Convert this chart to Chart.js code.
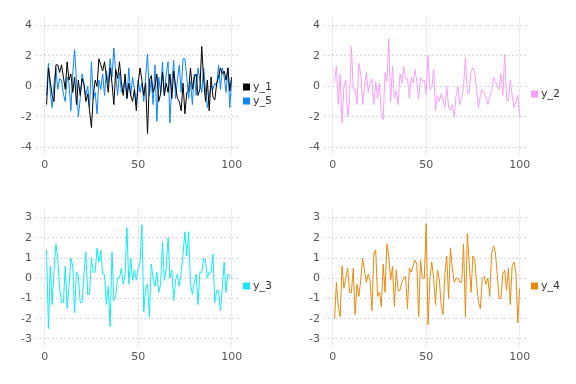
<!DOCTYPE html>
<html>
<head>
<meta charset="utf-8">
<script src="https://cdn.jsdelivr.net/npm/chart.js@4.4.1/dist/chart.umd.min.js"></script>
<style>
    html, body { margin: 0; padding: 0; background: #fff; }
    #wrap { position: relative; width: 576px; height: 384px; }
    #wrap canvas { position: absolute; }
</style>
</head>
<body>
<div id="wrap">
    <canvas id="c1" width="288" height="192" style="left:0;top:0"></canvas>
    <canvas id="c2" width="288" height="192" style="left:288px;top:0"></canvas>
    <canvas id="c3" width="288" height="192" style="left:0;top:192px"></canvas>
    <canvas id="c4" width="288" height="192" style="left:288px;top:192px"></canvas>
</div>
<script>
/* ==================== DATA ==================== */
const y1 = [
    -1.2, 1.2, 0.3, -0.6, -1.0, 1.4, 1.4, 0.9, 1.4, 0.6,
    -0.2, 1.6, 0.4, 0.8, -0.4, 0.6, -1.2, 0.4, -0.6, 0.5,
    0.1, -1.0, -0.5, -1.6, -2.7, -0.6, 0.4, 0.0, 1.8, 1.4,
    1.0, 1.6, 0.6, -0.4, 1.2, 0.2, -1.2, 1.1, 0.5, 1.6,
    0.3, -0.6, 0.8, -0.8, 0.2, -0.6, -1.0, -0.2, -1.6, 0.2,
    1.2, 0.4, -0.6, 0.2, -3.1, 0.4, 0.7, -0.4, 0.0, 0.8,
    -1.0, -0.5, 0.9, -0.6, 0.2, -0.4, 0.8, -0.8, 1.0, 0.0,
    -0.8, -1.0, -1.6, 0.2, -1.8, -0.4, -0.3, 1.2, -0.2, 0.6,
    0.8, -0.6, -0.2, 2.6, 0.5, -1.0, 0.4, -1.6, 0.6, -0.7,
    -0.9, 0.2, 0.6, 1.2, 0.8, 1.0, 0.4, 1.2, -0.3, 0.6
];
const y5 = [
    -0.6, 1.5, -0.4, -1.4, 0.2, 1.2, -0.2, 0.5, 0.4, -0.5,
    -1.0, 0.6, 0.2, -1.6, 0.8, 2.4, 0.4, -2.0, -0.8, 0.8,
    0.2, -0.6, 0.0, -1.4, 1.6, -0.8, -0.4, -1.8, 0.4, -0.2,
    0.8, -0.6, 1.0, 0.2, 1.8, 0.6, 2.5, 0.8, -0.6, 0.9,
    -0.4, 0.0, 0.4, -0.8, 1.2, -0.6, 0.6, -0.2, -1.2, 0.4,
    -0.4, 0.2, -1.0, 0.6, 2.1, -0.6, 0.4, -1.2, 1.4, -2.3,
    0.6, -0.4, 1.6, -0.6, 0.8, 1.6, -2.4, 0.2, 1.7, -0.8,
    0.4, 1.4, -0.4, 1.8, 1.8, 0.6, -0.8, 0.3, -1.2, 0.8,
    -0.6, 1.2, 0.4, -0.4, 1.2, -0.2, -1.4, -0.6, 0.0, -0.2,
    0.2, 0.0, 1.4, -0.2, 1.2, 0.6, -0.4, 1.2, -1.4, 0.4
];
const y2 = [
    0.3, 1.3, -1.2, 0.8, -2.4, 0.0, 0.4, -2.0, -1.0, 2.6,
    -0.2, -0.2, -1.2, 1.5, 0.8, -1.2, 0.0, 0.9, -0.4, 0.2,
    0.5, -1.2, 0.3, -0.8, 0.2, -1.8, -2.2, 0.9, 0.3, 3.1,
    -1.0, 1.3, -0.8, -0.3, -1.2, 0.8, 0.2, 1.3, 0.5, 0.5,
    -0.8, 0.6, 0.2, 1.1, 0.3, -0.8, 0.6, 0.3, 0.4, -0.5,
    2.0, -0.2, -0.1, 1.1, -1.6, -0.6, -1.0, -0.5, -0.9, -1.4,
    0.0, -1.4, -1.6, -1.2, -2.0, -0.6, 0.0, -1.2, -0.8, 0.0,
    1.9, -0.4, -0.5, 1.0, 1.2, 0.9, -0.2, -1.4, -0.6, -0.2,
    -0.4, -0.8, -1.2, -0.7, -0.4, 0.6, 0.3, 0.0, -0.2, 0.8,
    -0.6, 2.1, -0.8, -1.0, 0.4, -0.6, -1.4, -1.0, -0.6, -2.0
];
const y3 = [
    1.4, -2.5, 0.6, -1.3, 0.4, 1.7, 1.0, -0.5, -1.2, -1.2,
    0.6, -1.5, -0.4, 1.0, 0.6, -1.7, 0.3, 0.1, -1.2, -1.2,
    0.2, 1.3, -0.8, -0.8, 1.0, 0.3, 0.3, 1.5, 0.8, 1.4,
    0.2, 0.2, -1.3, -0.4, -2.4, 1.3, -1.1, -0.9, 0.0, 0.0,
    0.5, -0.3, 0.2, 2.5, -0.3, 1.0, -0.1, 0.4, -0.1, 0.5,
    0.8, 2.65, -1.65, -0.5, -0.3, -1.9, 0.7, 0.0, -0.4, 0.3,
    -0.7, -0.3, 1.8, -0.1, 0.5, 2.0, 0.0, 0.4, -1.1, -0.1,
    0.2, -0.4, 0.3, 1.2, 2.3, 1.1, 2.3, -0.3, -0.8, -0.2,
    0.2, -1.3, 0.3, 0.3, 1.0, 0.9, 0.0, 0.3, 0.3, 1.2,
    -1.2, -0.6, -0.6, -1.6, -0.5, 0.8, -0.7, 0.2, 0.1, 0.0
];
const y4 = [
    -2.0, -0.2, -1.4, -1.9, 0.6, -0.5, 0.0, 0.5, -0.7, -0.7,
    0.5, -1.8, -0.3, -0.9, -0.1, 1.0, 0.4, -0.2, 0.2, -0.1,
    -1.6, 1.2, 1.4, -0.9, -0.7, -1.4, 0.7, -0.7, 1.7, 1.1,
    -0.1, 0.6, -1.4, 0.4, -0.6, -0.6, -0.2, 0.0, 0.1, -1.5,
    0.5, 0.3, 0.6, 0.9, 0.7, -1.9, 0.9, 0.0, 0.0, 2.7,
    -2.3, 0.0, 0.8, 0.0, -1.3, 0.4, 0.0, -1.3, -1.8, 0.2,
    1.1, -1.0, 1.5, 0.5, -0.2, 0.0, 0.0, -0.2, -0.2, 1.7,
    -1.9, 2.2, 0.8, -0.7, 1.1, 0.9, -0.3, -1.2, -1.5, 0.0,
    0.1, -0.3, 0.0, -0.9, 1.2, 1.6, 1.3, 0.2, -1.0, -1.0,
    0.2, 0.4, -0.6, 0.5, -1.3, 0.6, 0.8, 0.3, -2.2, -0.5
];

const xTicks = [0, 50, 100];
const yTicksTop = [-4, -2, 0, 2, 4];
const yTicksBottom = [-3, -2, -1, 0, 1, 2, 3];

/* ==================== LEGEND ==================== */
const sideLegend = {
    id: 'sideLegend',
    afterDraw(chart) {
        const ctx = chart.ctx;
        const sets = chart.data.datasets;
        const step = 14;
        const y0 = 94 - (sets.length - 1) * step / 2;
        ctx.save();
        ctx.font = '11px "DejaVu Sans"';
        ctx.textBaseline = 'middle';
        sets.forEach((ds, i) => {
            const y = y0 + i * step;
            ctx.fillStyle = ds.borderColor;
            ctx.fillRect(243, y - 3.5, 7, 7);
            ctx.fillStyle = '#333';
            ctx.fillText(ds.label, 253, y);
        });
        ctx.restore();
    }
};

/* ==================== CHARTS ==================== */
function makeChart(id, series, yMin, yMax, yTicks) {
    const gridStyle = { color: '#d6d6e4', lineWidth: 1, drawTicks: false };
    const tickStyle = { color: '#555', font: { family: 'DejaVu Sans', size: 11 } };
    return new Chart(document.getElementById(id), {
        type: 'line',
        data: {
            datasets: series.map((s) => ({
                label: s.label,
                data: s.values.map((v, i) => ({ x: i + 1, y: v })),
                borderColor: s.color,
                backgroundColor: s.color,
                borderWidth: 1,
                pointRadius: 0,
                tension: 0,
            })),
        },
        options: {
            responsive: false,
            animation: false,
            devicePixelRatio: 1,
            layout: { padding: { top: 17.5, right: 50, left: 0, bottom: 0 } },
            plugins: { legend: { display: false }, tooltip: { enabled: false } },
            scales: {
                x: {
                    type: 'linear', min: -4.65, max: 103.4,
                    border: { display: false, dash: [2, 2] },
                    grid: gridStyle,
                    ticks: { ...tickStyle, padding: 4, maxRotation: 0 },
                    afterBuildTicks: (sc) => { sc.ticks = xTicks.map((v) => ({ value: v })); },
                    afterFit: (sc) => { sc.height = 37; },
                },
                y: {
                    min: yMin, max: yMax,
                    border: { display: false, dash: [2, 2] },
                    grid: gridStyle,
                    ticks: { ...tickStyle, padding: 4 },
                    afterBuildTicks: (sc) => { sc.ticks = yTicks.map((v) => ({ value: v })); },
                    afterFit: (sc) => { sc.width = 36; },
                },
            },
        },
        plugins: [sideLegend],
    });
}

makeChart('c1', [
    { label: 'y_1', values: y1, color: '#000000' },
    { label: 'y_5', values: y5, color: '#0a84ff' },
], -4.5, 4.5, yTicksTop);
makeChart('c2', [{ label: 'y_2', values: y2, color: '#f79ef7' }], -4.5, 4.5, yTicksTop);
makeChart('c3', [{ label: 'y_3', values: y3, color: '#14e8f5' }], -3.4, 3.4, yTicksBottom);
makeChart('c4', [{ label: 'y_4', values: y4, color: '#e8890c' }], -3.4, 3.4, yTicksBottom);
</script>
</body>
</html>
